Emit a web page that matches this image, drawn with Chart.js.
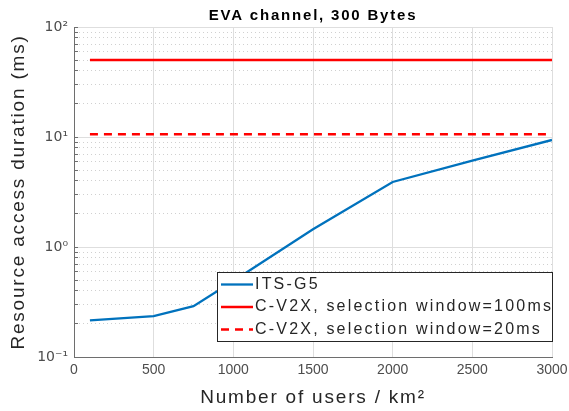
<!DOCTYPE html>
<html><head><meta charset="utf-8">
<script src="https://cdn.jsdelivr.net/npm/chart.js@4/dist/chart.umd.min.js"></script>
<style>html,body{margin:0;padding:0;background:#fff}#wrap{width:569px;height:411px}</style>
</head><body><div id="wrap"><canvas id="c" width="569" height="411"></canvas></div>
<script>
const users = [100, 500, 750, 1000, 1500, 2000, 2500, 3000];
const itsG5 = [0.215, 0.235, 0.29, 0.49, 1.45, 3.9, 6.1, 9.4];
const cv2xWin100 = [50, 50, 50, 50, 50, 50, 50, 50];
const cv2xWin20 = [10.6, 10.6, 10.6, 10.6, 10.6, 10.6, 10.6, 10.6];
const seriesLabels = ['ITS-G5', 'C-V2X, selection window=100ms', 'C-V2X, selection window=20ms'];
const xTickValues = [0, 500, 1000, 1500, 2000, 2500, 3000];
const yDecades = [0.1, 1, 10, 100];
const yDecadeLabels = ['10\u207B\u00B9', '10\u2070', '10\u00B9', '10\u00B2'];

const FONT = "'Liberation Sans', Helvetica, Arial, sans-serif";
const WIDE = '1.8px';
const toPts = (ys) => users.map((x, i) => ({x: x, y: ys[i]}));
const isDecade = (v) => yDecades.some(d => Math.abs(v - d) < d * 1e-6);

const spacingPlugin = {
  id: 'spacing',
  beforeDraw(chart) { chart.ctx.letterSpacing = WIDE; },
  afterDatasetsDraw(chart) { chart.ctx.letterSpacing = '0px'; }
};

const legendPlugin = {
  id: 'boxLegend',
  afterDraw(chart) {
    const ctx = chart.ctx;
    const L = 217, T = 272, W = 335, H = 69, rowH = 22.5;
    ctx.save();
    ctx.letterSpacing = '2.2px';
    ctx.fillStyle = '#fff';
    ctx.fillRect(L, T, W, H);
    ctx.strokeStyle = '#262626';
    ctx.lineWidth = 1;
    ctx.strokeRect(L + 0.5, T + 0.5, W, H);
    ctx.font = '16px ' + FONT;
    ctx.textBaseline = 'middle';
    chart.data.datasets.forEach((ds, i) => {
      const y = T + 12.5 + i * rowH;
      ctx.strokeStyle = ds.borderColor;
      ctx.lineWidth = ds.borderWidth;
      ctx.setLineDash(ds.borderDash || []);
      ctx.beginPath();
      ctx.moveTo(L + 4, y);
      ctx.lineTo(L + 36, y);
      ctx.stroke();
      ctx.setLineDash([]);
      ctx.fillStyle = '#262626';
      ctx.fillText(ds.label, L + 38, y);
    });
    ctx.restore();
    ctx.letterSpacing = '0px';
  }
};

new Chart(document.getElementById('c'), {
  type: 'line',
  data: {
    datasets: [
      {label: seriesLabels[0], data: toPts(itsG5), borderColor: '#0072BD', borderWidth: 2.3, pointRadius: 0, tension: 0},
      {label: seriesLabels[1], data: toPts(cv2xWin100), borderColor: '#FF0000', borderWidth: 2.5, pointRadius: 0},
      {label: seriesLabels[2], data: toPts(cv2xWin20), borderColor: '#FF0000', borderWidth: 2.5, borderDash: [8, 6], pointRadius: 0}
    ]
  },
  options: {
    responsive: false,
    animation: false,
    devicePixelRatio: 1,
    layout: {padding: {left: 0, right: 17, top: 0, bottom: 0}},
    plugins: {
      legend: {display: false},
      tooltip: {enabled: false},
      title: {
        display: true,
        fullSize: false,
        text: 'EVA channel, 300 Bytes',
        color: '#000',
        font: {family: FONT, size: 15, weight: 'bold'},
        padding: {top: 7, bottom: 2}
      }
    },
    scales: {
      x: {
        type: 'linear',
        min: 0, max: 3000,
        afterBuildTicks: (s) => { s.ticks = xTickValues.map(v => ({value: v})); },
        afterFit: (s) => { s.height = 54; s.paddingRight = 0; s.paddingLeft = 0; },
        ticks: {z: 1, color: '#4d4d4d', font: {family: FONT, size: 14}, padding: 5, maxRotation: 0, callback: (v) => String(v)},
        grid: {color: '#dedede', lineWidth: 1, drawTicks: false},
        border: {color: '#6e6e6e', width: 1},
        title: {display: true, text: 'Number of users / km\u00B2', color: '#262626', font: {family: FONT, size: 19}, padding: {top: 2, bottom: 2}}
      },
      y: {
        type: 'logarithmic',
        min: 0.1, max: 100,
        afterBuildTicks: (s) => {
          const t = [];
          for (let k = 0; k < yDecades.length - 1; k++) {
            for (let m = 1; m <= 9; m++) t.push({value: yDecades[k] * m});
          }
          t.push({value: yDecades[yDecades.length - 1]});
          s.ticks = t;
        },
        afterFit: (s) => { s.width = 74; },
        ticks: {
          z: 1,
          autoSkip: false,
          color: '#4d4d4d',
          font: {family: "'DejaVu Sans', " + FONT, size: 14},
          padding: 10,
          callback: (v) => {
            const i = yDecades.findIndex(d => Math.abs(v - d) < d * 1e-6);
            return i >= 0 ? yDecadeLabels[i] : '';
          }
        },
        grid: {
          drawTicks: true,
          tickLength: -4,
          tickColor: '#6e6e6e',
          tickBorderDash: [],
          lineWidth: 1,
          color: (c) => (c.tick && isDecade(c.tick.value)) ? '#dedede' : '#d0d0d0'
        },
        border: {
          color: '#6e6e6e', width: 1,
          dash: (c) => (c.tick && !isDecade(c.tick.value)) ? [1, 3] : []
        },
        title: {display: true, text: 'Resource access duration (ms)', color: '#262626', font: {family: FONT, size: 19}, padding: {top: 7, bottom: 0}}
      }
    }
  },
  plugins: [spacingPlugin, legendPlugin]
});
</script></body></html>
